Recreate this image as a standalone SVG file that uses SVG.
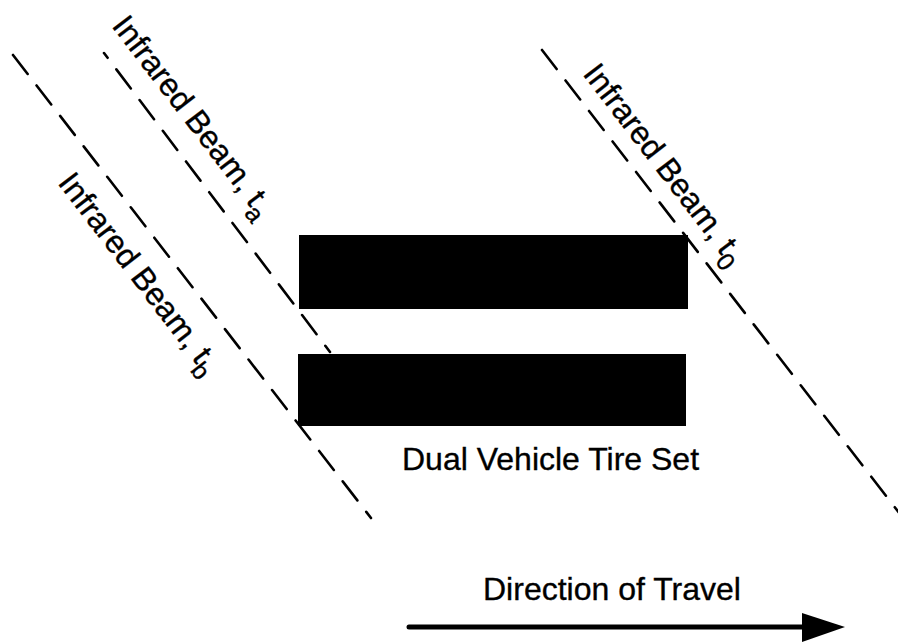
<svg xmlns="http://www.w3.org/2000/svg" width="898" height="643" viewBox="0 0 898 643">
  <style>
    .beam { fill: none; stroke: #000; stroke-width: 2.6; stroke-dasharray: 24 14.5; stroke-linecap: round; }
    .lbl { font-family: "Liberation Sans", Arial, sans-serif; font-size: 32px; fill: #000; stroke: #000; stroke-width: 0.35; }
    .sub { font-size: 25px; }
    .tire { fill: #000; }
  </style>
  <rect width="898" height="643" fill="#fff"/>

  <!-- infrared beams (dashed) -->
  <g id="beams">
    <path id="beam-b" class="beam" d="M13,55 L371,518"/>
    <path id="beam-a" class="beam" d="M104,53 L330,352" stroke-dashoffset="18"/>
    <path id="beam-0" class="beam" d="M542,50 L900,514"/>
  </g>

  <!-- dual tire set -->
  <g id="tire-top"><rect class="tire" x="299" y="235" width="389" height="74"/></g>
  <g id="tire-bottom"><rect class="tire" x="298" y="354" width="388" height="72"/></g>

  <!-- beam labels -->
  <g id="label-a">
    <text class="lbl" transform="translate(111,26) rotate(52.5)">Infrared Beam, t<tspan class="sub" dy="9">a</tspan></text>
  </g>
  <g id="label-b">
    <text class="lbl" transform="translate(57,183) rotate(52.5)">Infrared Beam, t<tspan class="sub" dy="9">b</tspan></text>
  </g>
  <g id="label-0">
    <text class="lbl" transform="translate(582,74) rotate(52.5)">Infrared Beam, t<tspan class="sub" dy="9">0</tspan></text>
  </g>

  <g id="tire-caption">
    <text class="lbl" x="402" y="470">Dual Vehicle Tire Set</text>
  </g>

  <!-- travel direction -->
  <g id="travel">
    <text class="lbl" x="483" y="600">Direction of Travel</text>
    <line x1="409" y1="627" x2="806" y2="627" stroke="#000" stroke-width="5" stroke-linecap="round"/>
    <polygon points="802,613 845,627 802,642" fill="#000"/>
  </g>
</svg>
